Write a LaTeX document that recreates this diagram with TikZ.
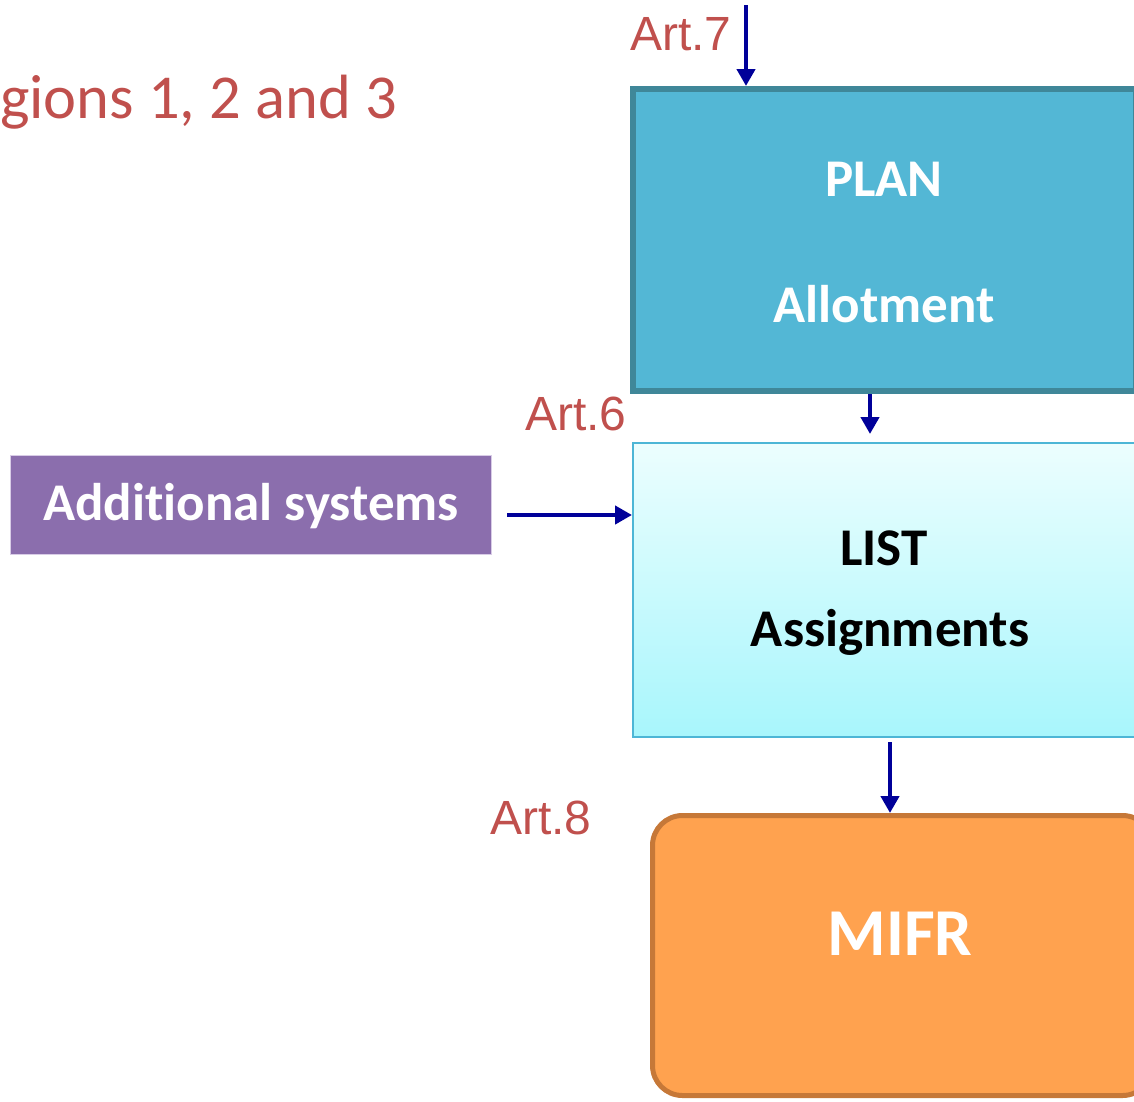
\documentclass[tikz,border=0pt]{standalone}
\usepackage{fontspec}
\setmainfont[Ligatures={NoCommon}]{Carlito}
\newfontfamily\arialfont{Liberation Sans}
\usetikzlibrary{arrows.meta}
\definecolor{artred}{HTML}{C0504D}
\definecolor{arrblue}{HTML}{000099}
\definecolor{planfill}{HTML}{53B7D5}
\definecolor{planedge}{HTML}{3F8799}
\definecolor{listtop}{HTML}{ECFEFE}
\definecolor{listbot}{HTML}{A8F6FC}
\definecolor{listedge}{HTML}{4DB6D6}
\definecolor{addfill}{HTML}{8B6EAD}
\definecolor{addedge}{HTML}{D8CCE6}
\definecolor{mifrfill}{HTML}{FFA24F}
\definecolor{mifredge}{HTML}{C67838}
\begin{document}
\begin{tikzpicture}[x=1pt,y=-1pt,
  flow/.style={draw=arrblue, line width=4.5pt, -{Triangle[width=18pt,length=17pt]}},
  artlabel/.style={text=artred, font=\arialfont\fontsize{48}{56}\selectfont, inner sep=0pt, anchor=base west},
  boxtext/.style={font=\bfseries\fontsize{53}{60}\selectfont, inner sep=0pt, anchor=base},
  box/.style={inner sep=0pt, anchor=north west},
]
\useasboundingbox (0,0) rectangle (1134,1101);
\clip (0,0) rectangle (1134,1101);

% title
\node[anchor=base west, text=artred, font=\fontsize{62.5}{70}\selectfont, inner sep=0pt] (title) at (0,118) {gions 1, 2 and 3};

% boxes
\node[box, draw=planedge, line width=6pt, fill=planfill, minimum width=503pt, minimum height=302pt] (plan) at (630,86) {};
\node[box, draw=listedge, line width=2pt, top color=listtop, bottom color=listbot, minimum width=508pt, minimum height=294pt] (list) at (632,442) {};
\node[box, draw=addedge, line width=1pt, fill=addfill, minimum width=481pt, minimum height=99pt] (add) at (10,455) {};
\node[box, draw=mifredge, line width=5pt, fill=mifrfill, rounded corners=30pt, minimum width=500pt, minimum height=280pt] (mifr) at (650,813) {};

% box texts
\node[boxtext, text=white] (plant) at (884,196) {PLAN};
\node[boxtext, text=white] (allot) at (884,322) {Allotment};
\node[boxtext, text=black] (listt) at (884,565) {LIST};
\node[boxtext, text=black] (assign) at (890,646) {Assignments};
\node[boxtext, text=white] (addt) at (251,520) {Addi\kern0pt tional systems};
\node[boxtext, text=white, font=\bfseries\fontsize{67}{72}\selectfont] (mifrt) at (900,955) {MIFR};

% article labels
\node[artlabel] (art7) at (630,50) {Art.7};
\node[artlabel] (art6) at (525,430) {Art.6};
\node[artlabel] (art8) at (490,834) {Art.8};

% connectors
\coordinate (a7top) at (746,5);
\coordinate (xpl) at (870,0);
\coordinate (xlm) at (890,0);
\coordinate (yad) at (0,515);
\draw[flow] (a7top) -- (a7top |- plan.north);
\draw[flow, shorten >=8pt] (xpl |- plan.south) -- (xpl |- list.north);
\draw[flow, shorten <=15pt] (add.east |- yad) -- (list.west |- yad);
\draw[flow, shorten <=4pt] (xlm |- list.south) -- (xlm |- mifr.north);
\end{tikzpicture}
\end{document}
